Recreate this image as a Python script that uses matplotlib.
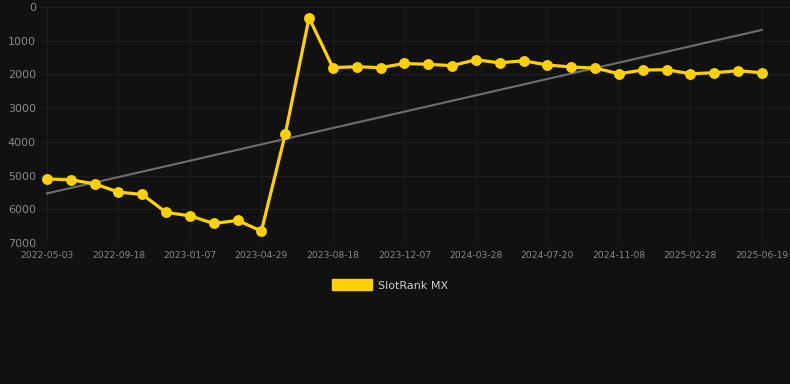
import matplotlib
matplotlib.use("Agg")
import matplotlib.pyplot as plt
from matplotlib.patches import Patch

tick_labels = ["2022-05-03", "2022-09-18", "2023-01-07", "2023-04-29", "2023-08-18",
               "2023-12-07", "2024-03-28", "2024-07-20", "2024-11-08", "2025-02-28",
               "2025-06-19"]
ranks = [5100, 5125, 5245, 5490, 5560, 6090, 6195, 6420, 6330, 6645,
         3775, 320, 1800, 1770, 1800, 1675, 1700, 1740, 1565, 1655,
         1595, 1720, 1780, 1810, 1980, 1870, 1860, 1980, 1950, 1890, 1950]
trend_ends = [5530, 680]
series_name = "SlotRank MX"

BG = "#111111"
GOLD = "#FFD100"

fig = plt.figure(figsize=(7.9, 3.84), dpi=100, facecolor=BG)
ax = fig.add_axes([40/790, 1 - 243/384, 750/790, 236/384], facecolor=BG)

n = len(ranks)
xs = list(range(n))
ax.plot([0, n - 1], trend_ends, color="#6e6e6e", lw=1.5, zorder=2)
ax.plot(xs, ranks, color=GOLD, lw=2.3, marker="o", markersize=6.8, zorder=3)

ax.set_ylim(7000, 0)
ax.set_xlim(-0.29, 31.18)
ax.set_yticks(range(0, 7001, 1000))
ax.set_xticks(range(0, n, 3))
ax.set_xticklabels(tick_labels)
ax.tick_params(axis="y", colors="#888888", labelsize=8, length=0, pad=3)
ax.tick_params(axis="x", colors="#888888", labelsize=6.6, length=0, pad=6)
ax.grid(True, color="#1e1e1e", lw=0.8)
for s in ax.spines.values():
    s.set_visible(False)

leg = fig.legend(handles=[Patch(facecolor=GOLD, edgecolor=GOLD, label=series_name)],
                 loc="center", bbox_to_anchor=(390/790, 1 - 285/384),
                 frameon=False, fontsize=8, labelcolor="#cccccc",
                 handlelength=3.6, handleheight=1.1, handletextpad=0.5)

fig.savefig("out.png", dpi=100, facecolor=BG)
